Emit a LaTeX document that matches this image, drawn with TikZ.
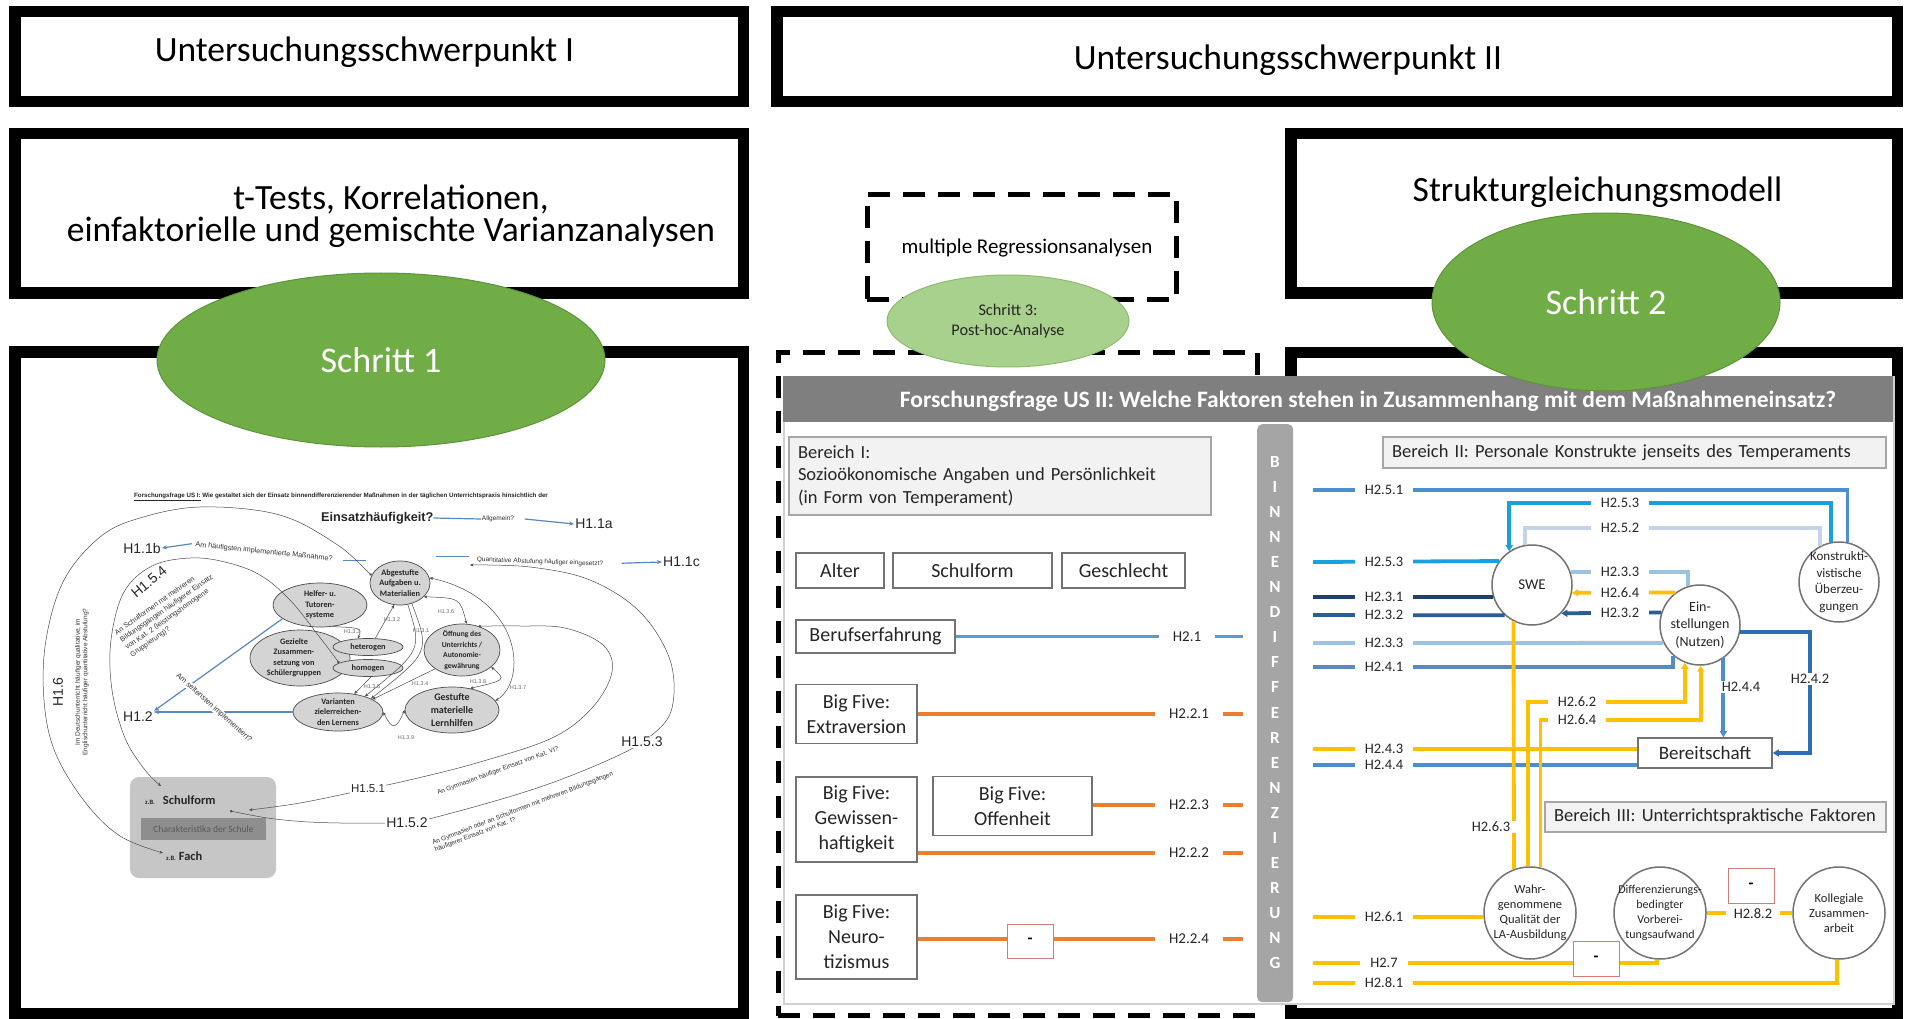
\documentclass[tikz,border=0pt]{standalone}
\usepackage{fontspec}
\setmainfont{Carlito}
\newfontfamily\arialf{Liberation Sans}
\usetikzlibrary{arrows.meta,shapes.geometric}
\newcommand{\fsz}[2]{\fontsize{#1}{#2}\selectfont}

\definecolor{grn}{HTML}{70AD47}
\definecolor{grnd}{HTML}{5E9439}
\definecolor{grnl}{HTML}{A9D18E}
\definecolor{grnld}{HTML}{8DBB6D}
\definecolor{hdrgray}{HTML}{7F7F7F}
\definecolor{bargray}{HTML}{A5A5A5}
\definecolor{boxfill}{HTML}{F2F2F2}
\definecolor{boxedge}{HTML}{A6A6A6}
\definecolor{orng}{HTML}{ED7D31}
\definecolor{ylw}{HTML}{FFC000}
\definecolor{bmid}{HTML}{5B9BD5}
\definecolor{bfive}{HTML}{4A8FD4}
\definecolor{bcyan}{HTML}{1AA0DE}
\definecolor{bpale}{HTML}{C5D3E6}
\definecolor{bnavy}{HTML}{22416A}
\definecolor{bdark}{HTML}{2E5C94}
\definecolor{blight}{HTML}{9CC2E5}
\definecolor{bfour}{HTML}{5A8AC6}
\definecolor{bready}{HTML}{2F6EB5}
\definecolor{bwill}{HTML}{4D8ED0}
\definecolor{minusred}{HTML}{D07C7A}
\definecolor{ellfill}{HTML}{D4D4D4}
\definecolor{qblue}{HTML}{5A87BE}
\definecolor{chgray}{HTML}{C6C6C6}
\definecolor{chdark}{HTML}{8E8E8E}
\definecolor{txt}{HTML}{262626}

\begin{document}
\begin{tikzpicture}[x=1pt,y=-1pt,
  thickframe/.style={draw=black, line width=11.5pt, inner sep=0pt},
  dashframe/.style={draw=black, line width=5pt, dash pattern=on 22pt off 13pt, inner sep=0pt},
  stepell/.style={ellipse, fill=grn, draw=grnd, line width=1pt, inner sep=0pt, text=white, font=\fsz{36}{40}},
  bigtext/.style={font=\fsz{35.5}{32}, text=black, inner sep=0pt},
  catbox/.style={draw=black!55, line width=1.6pt, fill=white, inner sep=0pt, align=center, font=\fsz{20}{25}, text=txt},
  areabox/.style={fill=boxfill, draw=boxedge, line width=2pt, inner xsep=9pt, inner ysep=0pt, align=left, font=\fsz{18.5}{22.5}, text=txt},
  hlab/.style={font=\fsz{14.5}{16}, fill=white, inner xsep=10pt, inner ysep=1pt, text=txt},
  hlabI/.style={font=\fsz{15}{16}, fill=white, inner xsep=14pt, inner ysep=1pt, text=txt},
  cnode/.style={circle, draw=black!55, line width=1.5pt, fill=white, inner sep=0pt},
  ctxt/.style={align=center, text=txt, inner sep=0pt},
  minusbox/.style={draw=minusred, line width=1pt, fill=white, minimum width=46pt, minimum height=34pt, inner sep=0pt, font=\bfseries\fsz{16}{18}},
  linkII/.style={line width=3.8pt},
  linkI/.style={line width=3.2pt},
  tipped/.style={-{Triangle[length=6pt,width=7pt]}},
  gell/.style={ellipse, fill=ellfill, draw=black!70, line width=0.7pt, inner sep=0pt},
  gtxt/.style={align=center, inner sep=0pt, font=\bfseries\fsz{8.3}{10.5}, text=txt},
  hsmall/.style={font=\arialf\fsz{14}{16}, text=txt, inner sep=1pt},
  qtext/.style={font=\arialf\fsz{6.5}{7.5}, text=black!80, inner sep=0.5pt},
  qline/.style={draw=qblue, line width=1.2pt},
  qarr/.style={qline, -{Stealth[length=5pt,width=4pt]}},
  tl/.style={draw=black!70, line width=0.5pt},
  tla/.style={tl, -{Stealth[length=3.5pt,width=3pt]}},
  tlb/.style={tl, {Stealth[length=3.5pt,width=3pt]}-{Stealth[length=3.5pt,width=3pt]}},
  tld/.style={tl, {Circle[length=2.5pt]}-{Stealth[length=3.5pt,width=3pt]}},
  minilab/.style={font=\arialf\fsz{5.5}{6}, text=black!60, inner sep=0.5pt},
]
\useasboundingbox (0,0) rectangle (1907,1019);
\fill[white] (0,0) rectangle (1907,1019);

% ---------- frames
\node[thickframe, minimum width=728.5pt, minimum height=90pt] (f1) at (379.25,56.5) {};
\node[thickframe, minimum width=1120.5pt, minimum height=90pt] (f2) at (1337.25,56.5) {};
\node[thickframe, minimum width=728.5pt, minimum height=159.5pt] (f3) at (379.25,213.25) {};
\node[thickframe, minimum width=606.5pt, minimum height=159.5pt] (f4) at (1594.25,213.25) {};
\node[thickframe, minimum width=728.5pt, minimum height=662pt] (f5) at (379.25,683) {};
\node[thickframe, minimum width=606.5pt, minimum height=661.5pt] (f6) at (1594.25,683.25) {};
\node[dashframe, minimum width=309pt, minimum height=105pt] (d1) at (1021.5,247) {};
\node[dashframe, minimum width=479.5pt, minimum height=663pt] (d2) at (1017.75,684) {};

% ---------- headings
\node[bigtext, anchor=base] (us1) at (364.5,62) {Untersuchungsschwerpunkt I};
\node[bigtext, anchor=base] (us2) at (1288,70) {Untersuchungsschwerpunkt II};
\node[bigtext, align=center] (meth1) at (391,216) {t-Tests, Korrelationen,\\einfaktorielle und gemischte Varianzanalysen};
\node[bigtext, anchor=base] (meth2) at (1597.5,202) {Strukturgleichungsmodell};
\node[font=\fsz{21}{24}, anchor=base, inner sep=0pt] (meth3) at (1027,254) {multiple Regressionsanalysen};

% ---------- right panel
\node[draw=black!18, line width=1.5pt, fill=white, minimum width=1110pt, minimum height=627pt, anchor=north west, inner sep=0pt] (panel) at (783,376) {};
\node[fill=hdrgray, minimum width=1110pt, minimum height=46pt, anchor=north west, inner sep=0pt] (hdr) at (783,376) {};
\node[font=\bfseries\fsz{23.5}{26}, text=white, inner sep=0pt] (hdrtxt) at (1368,401) {Forschungsfrage US II: Welche Faktoren stehen in Zusammenhang mit dem Maßnahmeneinsatz?};

% Bereich I
\node[areabox, minimum width=422pt, minimum height=78pt, text width=404pt] (ber1) at (1000,476) {Bereich I:\\Sozioökonomische Angaben und Persönlichkeit\\(in Form von Temperament)};
\node[catbox, minimum width=88pt, minimum height=35pt] (alter) at (840,570.5) {Alter};
\node[catbox, minimum width=159pt, minimum height=35pt] (schulf) at (972.5,570.5) {Schulform};
\node[catbox, minimum width=123pt, minimum height=35pt] (geschl) at (1123.5,570.5) {Geschlecht};
\node[catbox, minimum width=159pt, minimum height=33pt] (beruf) at (875.5,636.5) {Berufserfahrung};
\node[catbox, minimum width=121pt, minimum height=59pt] (extra) at (856.5,714) {Big Five:\\Extraversion};
\node[catbox, minimum width=121pt, minimum height=85pt] (gewiss) at (856.5,819.5) {Big Five:\\Gewissen-\\haftigkeit};
\node[catbox, minimum width=159pt, minimum height=59pt] (offen) at (1012.5,806) {Big Five:\\Offenheit};
\node[catbox, minimum width=121pt, minimum height=84pt] (neuro) at (856.5,937) {Big Five:\\Neuro-\\tizismus};

\coordinate (e21) at (1243,636.5);
\coordinate (e221) at (1243,714);
\coordinate (e223) at (1243,805);
\coordinate (e222) at (1243,853);
\coordinate (e224) at (1243,939);
\draw[linkI, bmid] (beruf.east) -- (e21);
\draw[linkI, orng] (extra.east) -- (e221);
\draw[linkI, orng] (offen.east |- e223) -- (e223);
\draw[linkI, orng] (gewiss.east |- e222) -- (e222);
\draw[linkI, orng] (neuro.east |- e224) -- (e224);
\node[minusbox] (mneg) at (1030,941) {-};
\node[hlabI] (h21) at (1187,636.5) {H2.1};
\node[hlabI] (h221) at (1189,714) {H2.2.1};
\node[hlabI] (h223) at (1189,805) {H2.2.3};
\node[hlabI] (h222) at (1189,853) {H2.2.2};
\node[hlabI] (h224) at (1189,939) {H2.2.4};

% BINNENDIFFERENZIERUNG bar
\node[fill=bargray, rounded corners=5pt, minimum width=36pt, minimum height=578pt, anchor=north west, inner sep=0pt] (bar) at (1257,424) {};
\foreach \ch [count=\i from 0] in {B,I,N,N,E,N,D,I,F,F,E,R,E,N,Z,I,E,R,U,N,G}
  \node[font=\bfseries\fsz{17}{20}, text=white, inner sep=0pt] (bl\i) at (1275,{462+25.05*\i}) {\ch};

% Bereich II / III constructs
\node[cnode, minimum size=80pt, label={[ctxt, font=\fsz{15}{17}]center:SWE}] (swe) at (1532,585) {};
\node[cnode, minimum size=80pt, label={[ctxt, font=\fsz{14}{17.5}]center:{Ein-\\stellungen\\(Nutzen)}}] (einst) at (1700,625) {};
\node[cnode, minimum size=80pt, label={[ctxt, font=\fsz{13}{16.5}]center:{Konstrukti-\\vistische\\Überzeu-\\gungen}}] (konstr) at (1839,582) {};
\node[cnode, minimum size=92pt, label={[ctxt, font=\fsz{12.5}{15}]center:{Wahr-\\genommene\\Qualität der\\LA-Ausbildung}}] (wahr) at (1530,913) {};
\node[cnode, minimum size=92pt, label={[ctxt, font=\fsz{12}{15}]center:{Differenzierungs-\\bedingter\\Vorberei-\\tungsaufwand}}] (diff) at (1660,913) {};
\node[cnode, minimum size=92pt, label={[ctxt, font=\fsz{12.5}{15}]center:{Kollegiale\\Zusammen-\\arbeit}}] (koll) at (1839,913) {};
\node[catbox, font=\fsz{19}{22}, minimum width=134pt, minimum height=30pt] (bereit) at (1705,753) {Bereitschaft};
\node[areabox, minimum width=503pt, minimum height=31pt, text width=485pt] (ber2) at (1634.5,452.5) {Bereich II: Personale Konstrukte jenseits des Temperaments};
\node[areabox, minimum width=341pt, minimum height=30pt, text width=323pt] (ber3) at (1715.5,817) {Bereich III: Unterrichtspraktische Faktoren};

\foreach \nm/\yy in {251/490, 253/562, 231/597, 232/615, 233/643, 241/667, 243/749, 244/765, 261/917, 27/963, 281/983}
  \coordinate (L\nm) at (1313,\yy);
\coordinate (k253) at (1620,503);
\coordinate (k252) at (1620,528);
\coordinate (k242) at (1810,720);
\coordinate (k262) at (1600,702);
\coordinate (k264) at (1600,720);

\draw[linkII, bfive] (L251) -| (konstr.78.5);
\draw[linkII, bcyan, tipped] (konstr.101.5) |- (k253) -| (swe.124);
\draw[linkII, bpale] (swe.100) |- (k252) -| (konstr.118.4);
\draw[linkII, bcyan] (L253) -- (swe.144.9);
\draw[linkII, bnavy] (L231) -- (swe.197.5);
\draw[linkII, bdark] (L232) -- (swe.228.6);
\draw[linkII, blight] (L233) -- (einst.206.7);
\draw[linkII, bfour] (L241) -| (einst.229.5);
\draw[linkII, blight] (swe.19) -| (einst.107.5);
\draw[linkII, ylw, tipped] (einst.127) -- (swe.-11.5);
\draw[linkII, bdark, tipped] (einst.162.5) -- (swe.-44.4);
\draw[linkII, bready, tipped] (einst.-10) -| (k242) |- (bereit.east);
\draw[linkII, bwill, tipped] (einst.-55) -- (einst.-55 |- bereit.north);
\draw[linkII, bwill] (L244) -- (L244 -| bereit.west);
\draw[linkII, ylw] (L243) -- (L243 -| bereit.west);
\draw[linkII, ylw] (wahr.110) -- (swe.243.5);
\draw[linkII, ylw, tipped] (wahr.92.5) |- (k262) -| (einst.248);
\draw[linkII, ylw, tipped] (wahr.77) |- (k264) -| (einst.271.4);
\draw[linkII, ylw] (L261) -- (wahr.185);
\draw[linkII, ylw] (L27) -| (diff.266);
\draw[linkII, ylw] (L281) -| (koll.268);
\draw[linkII, ylw] (diff.east) -- (koll.west);
\node[minusbox, minimum height=35pt] (mneg2) at (1596,959) {-};
\node[minusbox, minimum height=35pt] (mneg3) at (1751,885.5) {-};

\node[hlab] (h251) at (1384,490) {H2.5.1};
\node[hlab] (h253) at (1384,562) {H2.5.3};
\node[hlab] (h231) at (1384,597) {H2.3.1};
\node[hlab] (h232) at (1384,615) {H2.3.2};
\node[hlab] (h233) at (1384,643) {H2.3.3};
\node[hlab] (h241) at (1384,667) {H2.4.1};
\node[hlab] (h243) at (1384,749) {H2.4.3};
\node[hlab] (h244) at (1384,765) {H2.4.4};
\node[hlab] (h261) at (1384,917) {H2.6.1};
\node[hlab] (h27) at (1384,963) {H2.7};
\node[hlab] (h281) at (1384,983) {H2.8.1};
\node[hlab] (m253) at (k253) {H2.5.3};
\node[hlab] (m252) at (k252) {H2.5.2};
\node[hlab] (m233) at (1620,572) {H2.3.3};
\node[hlab] (m264) at (1620,593) {H2.6.4};
\node[hlab] (m232) at (1620,613) {H2.3.2};
\node[hlab] (m242) at (1810,679) {H2.4.2};
\node[hlab, inner xsep=4pt] (m244) at (1741,687) {H2.4.4};
\node[hlab] (m262) at (1577,702) {H2.6.2};
\node[hlab] (m264b) at (1577,720) {H2.6.4};
\node[hlab, inner xsep=7pt] (m263) at (1491,827) {H2.6.3};
\node[hlab, inner xsep=8pt] (m282) at (1753,914) {H2.8.2};

% ---------- left panel: research question map
\node[font=\arialf\bfseries\fsz{6.2}{7}, anchor=west, inner sep=0pt, text=txt] (fq) at (134,497) {\underline{Forschungsfrage US I:} Wie gestaltet sich der Einsatz binnendifferenzierender Maßnahmen in der täglichen Unterrichtspraxis hinsichtlich der};
\node[font=\arialf\bfseries\fsz{12.7}{14}, anchor=west, inner sep=0pt, text=txt] (eins) at (321,518) {Einsatzhäufigkeit?};
\node[qtext] (allg) at (498,519) {Allgemein?};
\node[hsmall] (h11a) at (594,524) {H1.1a};
\node[hsmall] (h11b) at (142,548) {H1.1b};
\node[qtext, font=\arialf\fsz{7.2}{8}, rotate=-6] (amh) at (264,552) {Am häufigsten implementierte Maßnahme?};
\node[qtext, rotate=-2] (quant) at (540,562) {Quantitative Abstufung häufiger eingesetzt?};
\node[hsmall, anchor=west] (h11c) at (662,562) {H1.1c};
\draw[qline] (eins.east) -- (allg.west);
\draw[qarr] (allg.east) ++(10,0) -- (h11a.west);
\draw[qarr] (amh.west) ++(-3,-1) -- (h11b.east);
\draw[qline] (amh.east) ++(10,1) -- ++(23,0);
\draw[qline] (quant.west) ++(-7,-3) -- ++(-33,0);
\draw[qarr] (quant.east) ++(18,-1) -- (h11c.west);

\node[gell, minimum width=60pt, minimum height=44pt, label={[gtxt]center:{Abgestufte\\Aufgaben u.\\Materialien}}] (abg) at (400,583) {};
\node[gell, minimum width=94pt, minimum height=44pt, label={[gtxt]center:{Helfer- u.\\Tutoren-\\systeme}}] (helf) at (320,605) {};
\node[gell, minimum width=100pt, minimum height=56pt, label={[gtxt, xshift=-6pt]center:{Gezielte\\Zusammen-\\setzung von\\Schülergruppen}}] (gez) at (300,658) {};
\node[gell, minimum width=70pt, minimum height=17pt, label={[gtxt]center:heterogen}] (het) at (368,647) {};
\node[gell, minimum width=70pt, minimum height=17pt, label={[gtxt]center:homogen}] (hom) at (368,668) {};
\node[gell, minimum width=76pt, minimum height=52pt, label={[gtxt, font=\bfseries\fsz{7.6}{10.5}]center:{Öffnung des\\Unterrichts /\\Autonomie-\\gewährung}}] (off) at (462,650) {};
\node[gell, minimum width=90pt, minimum height=38pt, label={[gtxt]center:{Varianten\\zielerreichen-\\den Lernens}}] (var) at (338,712) {};
\node[gell, minimum width=94pt, minimum height=46pt, label={[gtxt, font=\bfseries\fsz{10}{13}]center:{Gestufte\\materielle\\Lernhilfen}}] (ges) at (452,710) {};

% school characteristics
\node[fill=chgray, rounded corners=9pt, minimum width=146pt, minimum height=101pt, inner sep=0pt] (chbox) at (203,827.5) {};
\node[fill=chdark, minimum width=125pt, minimum height=22pt, inner sep=0pt, text=black!65, font=\fsz{9.5}{10}] (chband) at (203.5,829) {Charakteristika der Schule};
\node[anchor=base west, inner sep=0pt, text=txt] (sform) at (145,804) {\fsz{6.5}{7}\textbf{z.B.}\hspace{8pt}\fsz{12.5}{14}\textbf{Schulform}};
\node[anchor=base west, inner sep=0pt, text=txt] (sfach) at (166,860) {\fsz{6.5}{7}\textbf{z.B.}\hspace{3pt}\fsz{12.5}{14}\textbf{Fach}};

% relations between measures
\draw[tla] (het.50) -- (abg.255);
\draw[tla] (abg.290) .. controls (422,650) .. (var.30);
\draw[tla] (abg.300) .. controls (430,652) .. (var.22);
\draw[tlb] (abg.330) .. controls (460,598) .. (off.80);
\draw[tla] (helf.300) .. controls (362,628) .. (het.140);
\draw[tla] (off.215) -- (var.20);
\draw[tla] (hom.290) -- (var.48);
\draw[tlb] (off.330) .. controls (506,680) .. (ges.50);
\draw[tlb] (abg.10) .. controls (522,598) and (528,680) .. (ges.12);
\draw[tlb] (var.east) .. controls (392,730) and (396,730) .. (ges.west);
\node[minilab] (h132) at (392,620) {H1.3.2};
\node[minilab] (h131) at (421,631) {H1.3.1};
\node[minilab] (h136) at (446,612) {H1.3.6};
\node[minilab] (h133) at (352,632) {H1.3.3};
\node[minilab] (h134) at (420,684) {H1.3.4};
\node[minilab] (h135) at (372,687) {H1.3.5};
\node[minilab] (h138) at (478,682) {H1.3.8};
\node[minilab, fill=white] (h137) at (518,688) {H1.3.7};
\node[minilab] (h139) at (406,738) {H1.3.9};

% long hypotheses arcs
\coordinate (sfin) at (161,786);
\coordinate (sfout) at (230,811);
\coordinate (sfin2) at (249,810);
\coordinate (fachin) at (163,853);
\draw[tld] plot[smooth, tension=0.6] coordinates {(abg.165) (330,540) (276,514) (200,507) (140,518) (100,537) (64,580) (46,640) (44,700) (55,752) (85,802) (120,836) (fachin)};
\draw[tld] plot[smooth, tension=0.6] coordinates {(hom.170) (318,635) (290,600) (260,575) (225,562) (190,558) (152,566) (124,592) (111,640) (112,690) (125,738) (145,770) (sfin)};
\draw[tld] plot[smooth, tension=0.6] coordinates {(off.55) (520,626) (565,628) (603,645) (612,672) (592,708) (552,738) (480,762) (418,778) (368,789) (300,803) (sfin2)};
\draw[tld] plot[smooth, tension=0.6] coordinates {(sfout) (284,820) (340,823) (407,822) (448,814) (540,787) (615,757) (652,735) (672,708) (670,660) (640,612) (590,580) (530,567) (470,565)};

\node[hsmall] (h12) at (138,717) {H1.2};
\draw[qarr] (helf.200) -- (h12.north east);
\draw[qarr] (var.west) -- (var.west -| h12.east);
\node[qtext, font=\arialf\fsz{7.5}{8.5}, rotate=-42, fill=white] (q12) at (214,708) {Am seltensten implementiert?};
\node[hsmall, rotate=90] (h16) at (58,692) {H1.6};
\node[qtext, rotate=90, align=center] (q16) at (82,682) {Im Deutschunterricht häufiger qualitative, im\\Englischunterricht häufiger quantitative Abstufung?};
\node[hsmall, rotate=40] (h154) at (149,582) {H1.5.4};
\node[qtext, font=\arialf\fsz{7.2}{9}, rotate=35, align=left, anchor=west] (q154) at (123,645) {An Schulformen mit mehreren\\Bildungsgängen häufigerer Einsatz\\von Kat. 2 (leistungshomogene\\Gruppierung)?};
\node[hsmall, fill=white] (h153) at (642,742) {H1.5.3};
\node[hsmall, font=\arialf\fsz{11.5}{13}, fill=white] (h151) at (368,789) {H1.5.1};
\node[hsmall, fill=white] (h152) at (407,823) {H1.5.2};
\node[qtext, rotate=20] (q151) at (498,771) {An Gymnasien häufiger Einsatz von Kat. VI?};
\node[qtext, rotate=21, align=left] (q152) at (524,812) {An Gymnasien oder an Schulformen mit mehreren Bildungsgängen\\häufigerer Einsatz von Kat. I?};

% ---------- step ellipses
\node[stepell, minimum width=448pt, minimum height=174pt] (s1) at (381,360) {Schritt 1};
\node[stepell, minimum width=348pt, minimum height=178pt] (s2) at (1606,302) {Schritt 2};
\node[ellipse, fill=grnl, draw=grnld, line width=1pt, minimum width=242pt, minimum height=92pt, inner sep=0pt, align=center, font=\fsz{16.3}{20}, text=txt] (s3) at (1008,321) {Schritt 3:\\Post-hoc-Analyse};
\end{tikzpicture}
\end{document}
